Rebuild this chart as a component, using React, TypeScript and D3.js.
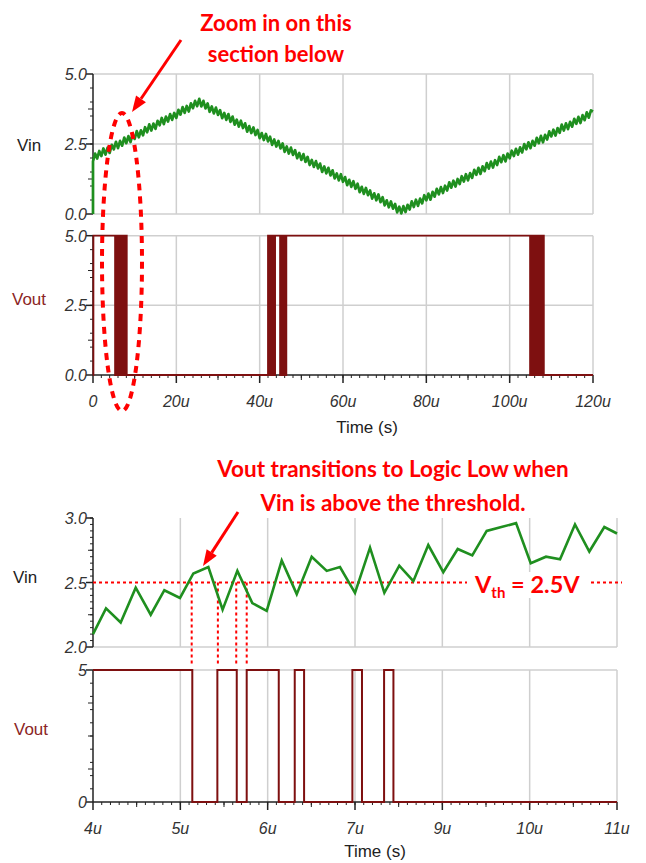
import React from 'react';
import * as d3 from 'd3';

// ---- overview run (0 .. 120u) ----
const VIN_TOP_STEP = 0.5; // u between samples
const vinTop = [
  1.88, 2.16, 1.98, 2.25, 2.07, 2.34, 2.12, 2.37, 2.18, 2.47,
  2.31, 2.58, 2.35, 2.61, 2.44, 2.73, 2.53, 2.78, 2.57, 2.85,
  2.68, 2.96, 2.74, 2.99, 2.81, 3.10, 2.92, 3.20, 2.98, 3.23,
  3.04, 3.33, 3.17, 3.43, 3.21, 3.48, 3.30, 3.57, 3.36, 3.61,
  3.43, 3.72, 3.55, 3.82, 3.61, 3.86, 3.66, 3.95, 3.78, 4.04,
  3.85, 4.11, 3.84, 4.04, 3.77, 3.95, 3.65, 3.84, 3.59, 3.80,
  3.54, 3.71, 3.42, 3.61, 3.36, 3.57, 3.29, 3.48, 3.19, 3.37,
  3.12, 3.33, 3.07, 3.24, 2.94, 3.14, 2.89, 3.09, 2.82, 3.00,
  2.71, 2.89, 2.64, 2.86, 2.59, 2.76, 2.47, 2.66, 2.41, 2.61,
  2.34, 2.52, 2.22, 2.41, 2.16, 2.37, 2.11, 2.28, 1.99, 2.18,
  1.93, 2.14, 1.86, 2.04, 1.75, 1.93, 1.68, 1.89, 1.63, 1.80,
  1.50, 1.70, 1.45, 1.65, 1.38, 1.56, 1.27, 1.45, 1.20, 1.42,
  1.15, 1.32, 1.03, 1.22, 0.97, 1.17, 0.90, 1.08, 0.78, 0.97,
  0.72, 0.93, 0.67, 0.84, 0.55, 0.74, 0.49, 0.70, 0.42, 0.60,
  0.31, 0.49, 0.24, 0.45, 0.19, 0.36, 0.06, 0.26, 0.02, 0.28,
  0.07, 0.33, 0.16, 0.45, 0.25, 0.51, 0.29, 0.55, 0.38, 0.67,
  0.49, 0.73, 0.51, 0.79, 0.62, 0.90, 0.70, 0.96, 0.75, 1.01,
  0.84, 1.13, 0.94, 1.19, 0.98, 1.25, 1.07, 1.35, 1.16, 1.42,
  1.20, 1.46, 1.29, 1.58, 1.40, 1.65, 1.43, 1.70, 1.53, 1.82,
  1.62, 1.87, 1.66, 1.92, 1.75, 2.04, 1.85, 2.10, 1.88, 2.16,
  1.99, 2.26, 2.07, 2.33, 2.12, 2.38, 2.20, 2.50, 2.31, 2.56,
  2.35, 2.61, 2.44, 2.72, 2.53, 2.79, 2.56, 2.83, 2.66, 2.95,
  2.77, 3.01, 2.80, 3.07, 2.90, 3.19, 2.98, 3.24, 3.03, 3.29,
  3.12, 3.40, 3.22, 3.47, 3.25, 3.53, 3.35, 3.63, 3.44, 3.70,
  3.66,
];
// Vout toggles (starts low at t=0)
const voutTopEdges = [
  0.1,
  5.3, 5.5, 5.7, 5.85, 6.2, 6.4, 6.6, 6.9, 7.1, 7.3, 7.6, 7.85, 8.1,
  42.0, 42.3, 42.6, 42.8, 43.1, 43.4, 43.7, 44.9, 45.2, 45.5, 45.9, 46.1, 46.4,
  104.9, 105.1, 105.4, 105.6, 105.9, 106.1, 106.4, 106.7, 107.0, 107.3, 107.6, 107.9, 108.2,
];
const topTicks = [0, 20, 40, 60, 80, 100, 120];
const topTickLabels = ['0', '20u', '40u', '60u', '80u', '100u', '120u'];
const topYTicks = [0, 2.5, 5];
const topYLabels = ['0.0', '2.5', '5.0'];

// ---- zoomed section ----
const vinZoomTimes = [
  4.0, 4.149, 4.317, 4.489, 4.661, 4.817, 4.996, 5.149, 5.321, 5.484,
  5.653, 5.824, 5.989, 6.161, 6.333, 6.504, 6.676, 6.828, 7.0, 7.172,
  7.336, 7.507, 7.668, 7.839, 8.011, 8.176, 8.343, 8.508, 8.676, 8.844,
  9.012, 9.187, 9.348, 9.519, 9.683, 9.855, 10.0,
];
const vinZoomValues = [
  2.10, 2.30, 2.19, 2.46, 2.25, 2.44, 2.38, 2.57, 2.62, 2.29,
  2.59, 2.34, 2.28, 2.67, 2.41, 2.70, 2.59, 2.62, 2.42, 2.77,
  2.42, 2.63, 2.51, 2.79, 2.58, 2.76, 2.71, 2.90, 2.93, 2.96,
  2.65, 2.70, 2.68, 2.95, 2.74, 2.93, 2.88,
];
// Vout toggles (starts high)
const voutZoomEdges = [5.137, 5.424, 5.646, 5.76, 6.127, 6.31, 6.417, 6.97, 7.08, 7.333, 7.44];
const crossTimes = [5.13, 5.43, 5.64, 5.76];
const zoomTicks = [4, 5, 6, 7, 8, 9, 10];
const zoomTickLabels = ['4u', '5u', '6u', '7u', '9u', '10u', '11u'];
const V_TH = 2.5;

const GREEN = '#1f8f1f';
const MAROON = '#7e1010';
const RED = '#ff0000';
const GRID = '#cfcfcf';
const AXIS = '#222';
const TXT = '#333';
const TICK_FONT = '"Liberation Sans", Arial, sans-serif';
const NOTE_FONT = 'Lato, "Open Sans", sans-serif';

type Pt = [number, number];

function stepSeries(edges: number[], t0: number, t1: number, startHigh: boolean, hi: number): Pt[] {
  let v = startHigh ? hi : 0;
  const pts: Pt[] = [[t0, v]];
  edges.forEach(t => {
    pts.push([t, v]);
    v = v === hi ? 0 : hi;
    pts.push([t, v]);
  });
  pts.push([t1, v]);
  return pts;
}

function LeftTicks({ scale, x, major, medium, minor, labels }: any) {
  const [lo, hi] = scale.domain();
  return (
    <g>
      <line x1={x} x2={x} y1={scale(lo)} y2={scale(hi)} stroke={AXIS} strokeWidth={1.5} />
      {minor.map((v: number, i: number) => (
        <line key={'mi' + i} x1={x - 3} x2={x} y1={scale(v)} y2={scale(v)} stroke={AXIS} strokeWidth={1} />
      ))}
      {medium.map((v: number, i: number) => (
        <line key={'me' + i} x1={x - 5} x2={x} y1={scale(v)} y2={scale(v)} stroke={AXIS} strokeWidth={1} />
      ))}
      {major.map((v: number, i: number) => (
        <g key={'ma' + i}>
          <line x1={x - 7} x2={x} y1={scale(v)} y2={scale(v)} stroke={AXIS} strokeWidth={1.5} />
          <text x={x - 6} y={scale(v) + 6} textAnchor="end" fontFamily={TICK_FONT} fontStyle="italic"
            fontSize={16} fill={TXT}>{labels[i]}</text>
        </g>
      ))}
    </g>
  );
}

function BottomTicks({ scale, y, major, medium, minor, labels }: any) {
  const [lo, hi] = scale.domain();
  return (
    <g>
      <line x1={scale(lo)} x2={scale(hi)} y1={y} y2={y} stroke={AXIS} strokeWidth={1.5} />
      {minor.map((v: number, i: number) => (
        <line key={'mi' + i} x1={scale(v)} x2={scale(v)} y1={y} y2={y + 3} stroke={AXIS} strokeWidth={1} />
      ))}
      {medium.map((v: number, i: number) => (
        <line key={'me' + i} x1={scale(v)} x2={scale(v)} y1={y} y2={y + 5} stroke={AXIS} strokeWidth={1} />
      ))}
      {major.map((v: number, i: number) => (
        <g key={'ma' + i}>
          <line x1={scale(v)} x2={scale(v)} y1={y} y2={y + 8} stroke={AXIS} strokeWidth={1.5} />
          <text x={scale(v)} y={y + 32} textAnchor="middle" fontFamily={TICK_FONT} fontStyle="italic"
            fontSize={16} fill={TXT}>{labels[i]}</text>
        </g>
      ))}
    </g>
  );
}

function Arrow({ x1, y1, x2, y2 }: { x1: number; y1: number; x2: number; y2: number }) {
  const a = Math.atan2(y2 - y1, x2 - x1);
  const len = 16, w = 6;
  const bx = x2 - len * Math.cos(a), by = y2 - len * Math.sin(a);
  const px = -Math.sin(a) * w, py = Math.cos(a) * w;
  return (
    <g>
      <line x1={x1} y1={y1} x2={bx} y2={by} stroke={RED} strokeWidth={3} />
      <polygon points={`${x2},${y2} ${bx + px},${by + py} ${bx - px},${by - py}`} fill={RED} />
    </g>
  );
}

export default function App() {
  // overview scales
  const xTop = d3.scaleLinear().domain([0, 120]).range([93, 593]);
  const yVinTop = d3.scaleLinear().domain([0, 5]).range([214, 74]);
  const yVoutTop = d3.scaleLinear().domain([0, 5]).range([375, 235.7]);
  // zoom scales
  const xZoom = d3.scaleLinear().domain([4, 10]).range([93, 617]);
  const yVinZoom = d3.scaleLinear().domain([2, 3]).range([647, 518]);
  const yVoutZoom = d3.scaleLinear().domain([0, 5]).range([802, 670]);

  const vinTopPts: Pt[] = [[0, 0], ...vinTop.map((v, i) => [i * VIN_TOP_STEP, v] as Pt)];
  const voutTopPts = stepSeries(voutTopEdges, 0, 120, false, 5);
  const vinZoomPts: Pt[] = vinZoomTimes.map((t, i) => [t, vinZoomValues[i]]);
  const voutZoomPts = stepSeries(voutZoomEdges, 4, 10, true, 5);

  const lineTopVin = d3.line<Pt>().x(d => xTop(d[0])).y(d => yVinTop(d[1]));
  const lineTopVout = d3.line<Pt>().x(d => xTop(d[0])).y(d => yVoutTop(d[1]));
  const lineZoomVin = d3.line<Pt>().x(d => xZoom(d[0])).y(d => yVinZoom(d[1]));
  const lineZoomVout = d3.line<Pt>().x(d => xZoom(d[0])).y(d => yVoutZoom(d[1]));

  const topGridX = topTicks.slice(1);
  const zoomGridX = zoomTicks.slice(1);

  return (
    <svg width={646} height={863} style={{ position: 'absolute', left: 0, top: 0, background: '#fff' }}>
      <rect width={646} height={863} fill="#fff" />

      {/* ================= overview ================= */}
      {/* Vin panel grid */}
      {topGridX.map(t => (
        <line key={'gv' + t} x1={xTop(t)} x2={xTop(t)} y1={yVinTop(5)} y2={yVinTop(0)} stroke={GRID} strokeWidth={1.5} />
      ))}
      {[0, 2.5, 5].map(v => (
        <line key={'gh' + v} x1={xTop(0)} x2={xTop(120)} y1={yVinTop(v)} y2={yVinTop(v)} stroke={GRID} strokeWidth={1.5} />
      ))}
      {/* Vout panel grid */}
      {topGridX.map(t => (
        <line key={'gvo' + t} x1={xTop(t)} x2={xTop(t)} y1={yVoutTop(5)} y2={yVoutTop(0)} stroke={GRID} strokeWidth={1.5} />
      ))}
      {[2.5, 5].map(v => (
        <line key={'gho' + v} x1={xTop(0)} x2={xTop(120)} y1={yVoutTop(v)} y2={yVoutTop(v)} stroke={GRID} strokeWidth={1.5} />
      ))}

      <LeftTicks scale={yVinTop} x={xTop(0)} major={topYTicks} labels={topYLabels}
        medium={[1.25, 3.75]} minor={d3.range(0.5, 5, 0.5)} />
      <LeftTicks scale={yVoutTop} x={xTop(0)} major={topYTicks} labels={topYLabels}
        medium={[1.25, 3.75]} minor={d3.range(0.5, 5, 0.5)} />
      <BottomTicks scale={xTop} y={yVoutTop(0)} major={topTicks} labels={topTickLabels}
        medium={d3.range(10, 120, 20)} minor={d3.range(2, 120, 2)} />

      <path d={lineTopVin(vinTopPts) ?? ''} fill="none" stroke={GREEN} strokeWidth={2.7} strokeLinejoin="round" />
      <path d={lineTopVout(voutTopPts) ?? ''} fill="none" stroke={MAROON} strokeWidth={1.8} />

      <text x={17} y={151} fontFamily={TICK_FONT} fontSize={17} fill="#222">Vin</text>
      <text x={12} y={305} fontFamily={TICK_FONT} fontSize={17} fill="#8b2525">Vout</text>
      <text x={367} y={433} textAnchor="middle" fontFamily={TICK_FONT} fontSize={17} fill="#222">Time (s)</text>

      {/* overview annotation */}
      <text x={276} y={31} textAnchor="middle" fontFamily={NOTE_FONT} fontWeight="bold" fontSize={22} fill={RED}>Zoom in on this</text>
      <text x={276} y={62} textAnchor="middle" fontFamily={NOTE_FONT} fontWeight="bold" fontSize={22} fill={RED}>section below</text>
      <Arrow x1={181} y1={40} x2={132} y2={112} />
      <ellipse cx={122} cy={262} rx={20} ry={149} fill="none" stroke={RED} strokeWidth={4} strokeDasharray="7 6" />

      {/* ================= zoomed section ================= */}
      {zoomGridX.map(t => (
        <line key={'zgv' + t} x1={xZoom(t)} x2={xZoom(t)} y1={yVinZoom(3)} y2={yVinZoom(2)} stroke={GRID} strokeWidth={1.5} />
      ))}
      <line x1={xZoom(4)} x2={xZoom(10)} y1={yVinZoom(2)} y2={yVinZoom(2)} stroke={GRID} strokeWidth={1.5} />
      {zoomGridX.map(t => (
        <line key={'zgvo' + t} x1={xZoom(t)} x2={xZoom(t)} y1={yVoutZoom(5)} y2={yVoutZoom(0)} stroke={GRID} strokeWidth={1.5} />
      ))}
      <line x1={xZoom(4)} x2={xZoom(10)} y1={yVoutZoom(5)} y2={yVoutZoom(5)} stroke={GRID} strokeWidth={1.5} />

      <LeftTicks scale={yVinZoom} x={xZoom(4)} major={[2, 2.5, 3]} labels={['2.0', '2.5', '3.0']}
        medium={[2.25, 2.75]} minor={d3.range(2.05, 3, 0.05)} />
      <LeftTicks scale={yVoutZoom} x={xZoom(4)} major={[0, 5]} labels={['0', '5']}
        medium={[1.25, 2.5, 3.75]} minor={d3.range(0.5, 5, 0.5)} />
      <BottomTicks scale={xZoom} y={yVoutZoom(0)} major={zoomTicks} labels={zoomTickLabels}
        medium={d3.range(4.5, 10, 1)} minor={d3.range(4.1, 10, 0.1)} />

      {/* threshold + crossing guides */}
      <line x1={xZoom(4)} x2={622} y1={yVinZoom(V_TH)} y2={yVinZoom(V_TH)} stroke={RED} strokeWidth={2} strokeDasharray="3 3" />
      {crossTimes.map(t => (
        <line key={'ct' + t} x1={xZoom(t)} x2={xZoom(t)} y1={yVinZoom(V_TH)} y2={yVoutZoom(5) - 4}
          stroke={RED} strokeWidth={2} strokeDasharray="3 3" />
      ))}
      <rect x={467} y={572} width={121} height={26} fill="#fff" />

      <path d={lineZoomVin(vinZoomPts) ?? ''} fill="none" stroke={GREEN} strokeWidth={2.6} strokeLinejoin="miter" />
      <path d={lineZoomVout(voutZoomPts) ?? ''} fill="none" stroke={MAROON} strokeWidth={2} />

      <text x={475} y={593} fontFamily={NOTE_FONT} fontWeight="bold" fontSize={23.5} fill={RED}>
        V<tspan dy={5} fontSize={15}>th</tspan><tspan dy={-5}> = 2.5V</tspan>
      </text>

      <text x={13} y={583} fontFamily={TICK_FONT} fontSize={17} fill="#222">Vin</text>
      <text x={14} y={735} fontFamily={TICK_FONT} fontSize={17} fill="#8b2525">Vout</text>
      <text x={375} y={857} textAnchor="middle" fontFamily={TICK_FONT} fontSize={17} fill="#222">Time (s)</text>

      <text x={393} y={477} textAnchor="middle" fontFamily={NOTE_FONT} fontWeight="bold" fontSize={22.5} fill={RED}>Vout transitions to Logic Low when</text>
      <text x={393} y={511} textAnchor="middle" fontFamily={NOTE_FONT} fontWeight="bold" fontSize={22.5} fill={RED}>Vin is above the threshold.</text>
      <Arrow x1={238} y1={512} x2={203} y2={566} />
    </svg>
  );
}
